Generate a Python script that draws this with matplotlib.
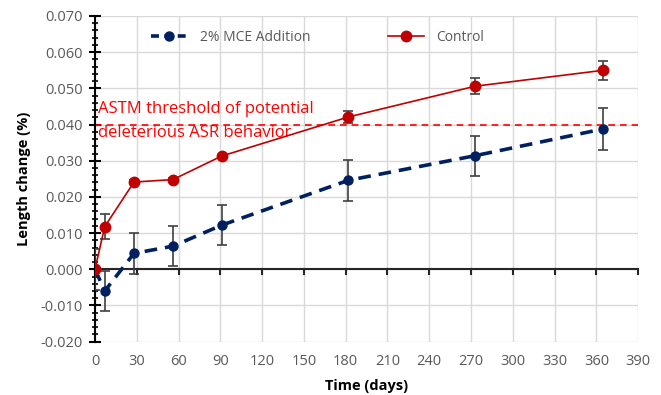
import numpy as np
import matplotlib.pyplot as plt
from matplotlib.lines import Line2D
from matplotlib.ticker import MultipleLocator, FormatStrFormatter

days = [0, 7, 28, 56, 91, 182, 273, 365]
control = [0.0, 0.0118, 0.0241, 0.0248, 0.0313, 0.0421, 0.0506, 0.0550]
control_err = [0.0, 0.0035, 0.0006, 0.0004, 0.0004, 0.0016, 0.0022, 0.0027]
mce = [0.0, -0.0060, 0.0044, 0.0064, 0.0122, 0.0246, 0.0314, 0.0388]
mce_err = [0.0057, 0.0056, 0.0057, 0.0056, 0.0056, 0.0057, 0.0055, 0.0057]
threshold = 0.040

plt.rcParams['font.family'] = ['Open Sans', 'DejaVu Sans']
GRAY = '#595959'
NAVY = '#002060'
RED = '#c00000'

fig = plt.figure(figsize=(6.61, 3.95), dpi=100)
ax = fig.add_axes([0.1437, 0.135, 0.8218, 0.8245])

ax.set_xlim(0, 390)
ax.set_ylim(-0.020, 0.070)
ax.xaxis.set_major_locator(MultipleLocator(30))
ax.yaxis.set_major_locator(MultipleLocator(0.010))
ax.yaxis.set_minor_locator(MultipleLocator(0.002))
ax.yaxis.set_major_formatter(FormatStrFormatter('%.3f'))
ax.grid(True, which='major', color='#d9d9d9', lw=1.0, zorder=0)
ax.set_axisbelow(True)

for s in ['top', 'right', 'bottom']:
    ax.spines[s].set_visible(False)
ax.spines['left'].set_color('black')
ax.spines['left'].set_linewidth(1.5)
ax.axhline(0, color='#262626', lw=1.5, zorder=1)

ax.tick_params(axis='y', which='major', direction='inout', length=8, width=1.5,
               colors='black', labelcolor=GRAY, labelsize=10.5, pad=5)
ax.tick_params(axis='y', which='minor', direction='inout', length=5, width=1.2, colors='black')
ax.tick_params(axis='x', which='major', length=0, labelcolor=GRAY, labelsize=10.5, pad=9)
# x ticks drawn on the zero line
for d in range(0, 391, 30):
    ax.plot([d, d], [0, -0.0012], color='#262626', lw=1.5, zorder=1, clip_on=False)

ax.axhline(threshold, color='#ff0000', lw=1.2, ls=(0, (4, 3)), zorder=2)
ax.text(2, 0.0442, 'ASTM threshold of potential',
        color='#ff0000', fontsize=12, va='center', ha='left', zorder=3)
ax.text(2, 0.0376, 'deleterious ASR behavior',
        color='#ff0000', fontsize=12, va='center', ha='left', zorder=3)

ax.errorbar(days, mce, yerr=mce_err, color=NAVY, lw=2.6, ls=(0, (3.5, 2.2)),
            marker='o', ms=6.5, ecolor='#404040', elinewidth=1.2, capsize=3.5,
            capthick=1.2, zorder=4)
ax.errorbar(days, control, yerr=control_err, color=RED, lw=1.2,
            marker='o', ms=7.5, ecolor='#404040', elinewidth=1.2, capsize=3.5,
            capthick=1.2, zorder=5)

handles = [Line2D([], [], color=NAVY, lw=2.6, ls=(0, (2.2, 1.5)), marker='o', ms=6.5),
           Line2D([], [], color=RED, lw=1.2, marker='o', ms=7.5)]
leg = ax.legend(handles, ['2% MCE Addition', 'Control'], loc='upper left', ncol=2,
                frameon=False, fontsize=10, bbox_to_anchor=(0.08, 0.995),
                columnspacing=5.6, handlelength=2.6, handletextpad=0.9)
for t in leg.get_texts():
    t.set_color(GRAY)

ax.set_xlabel('Time (days)', fontsize=10.5, fontweight='bold', labelpad=7)
ax.set_ylabel('Length change (%)', fontsize=10.5, fontweight='bold', labelpad=7)

fig.savefig('out.png', dpi=100)
